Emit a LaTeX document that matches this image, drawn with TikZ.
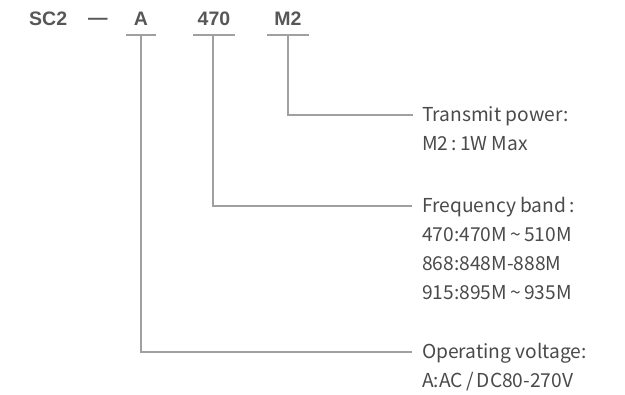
\documentclass[tikz,border=0pt]{standalone}
\usepackage{fontspec}
\setmainfont{Noto Sans CJK SC}
\newfontfamily\headfont{Liberation Sans}
\definecolor{txt}{HTML}{4A4A4A}
\definecolor{ln}{HTML}{A0A0A0}
\definecolor{hd}{HTML}{575757}
\begin{document}
\begin{tikzpicture}[x=1pt,y=-1pt,
  head/.style={font=\headfont\bfseries\fontsize{19.5}{20}\selectfont, text=hd, anchor=base, inner sep=0pt},
  lbl/.style={font=\fontsize{19.2}{20}\selectfont, text=txt, anchor=base west, inner sep=0pt},
  wire/.style={draw=ln, line width=1.1pt},
]
\useasboundingbox (0,0) rectangle (625,395);
% header
\node[head, anchor=base west] (sc) at (29,26) {SC2};
\node[head] (dash) at (98,25) {—};
\node[head] (hA) at (141,26) {A};
\node[head] (h470) at (214,26) {470};
\node[head] (hM) at (288,26) {M2};
% underline ends
\coordinate (uA1) at (126,35); \coordinate (uA2) at (156,35); \coordinate (uA) at (141,35);
\coordinate (u4701) at (193,35); \coordinate (u4702) at (235,35); \coordinate (u470) at (213,35);
\coordinate (uM1) at (267,35); \coordinate (uM2) at (309,35); \coordinate (uM) at (288,35);
\draw[wire] (uA1) -- (uA2);
\draw[wire] (u4701) -- (u4702);
\draw[wire] (uM1) -- (uM2);
% label ends
\coordinate (eM) at (413,115);
\coordinate (e470) at (412,206);
\coordinate (eA) at (412,352);
\draw[wire] (uM) |- (eM);
\draw[wire] (u470) |- (e470);
\draw[wire] (uA) |- (eA);
% labels
\node[lbl] (tp1) at (422,122) {Transmit power:};
\node[lbl] (tp2) at (422,151) {M2\,:\,1W Max};
\node[lbl] (fb1) at (422,213) {Frequency band\,:};
\node[lbl] (fb2) at (422,242) {470:470M\,\textasciitilde\,510M};
\node[lbl] (fb3) at (422,271) {868:848M-888M};
\node[lbl] (fb4) at (422,300) {915:895M\,\textasciitilde\,935M};
\node[lbl] (ov1) at (422,359) {Operating voltage:};
\node[lbl] (ov2) at (422,388) {A:AC\,/\,DC80-270V};
\end{tikzpicture}
\end{document}
